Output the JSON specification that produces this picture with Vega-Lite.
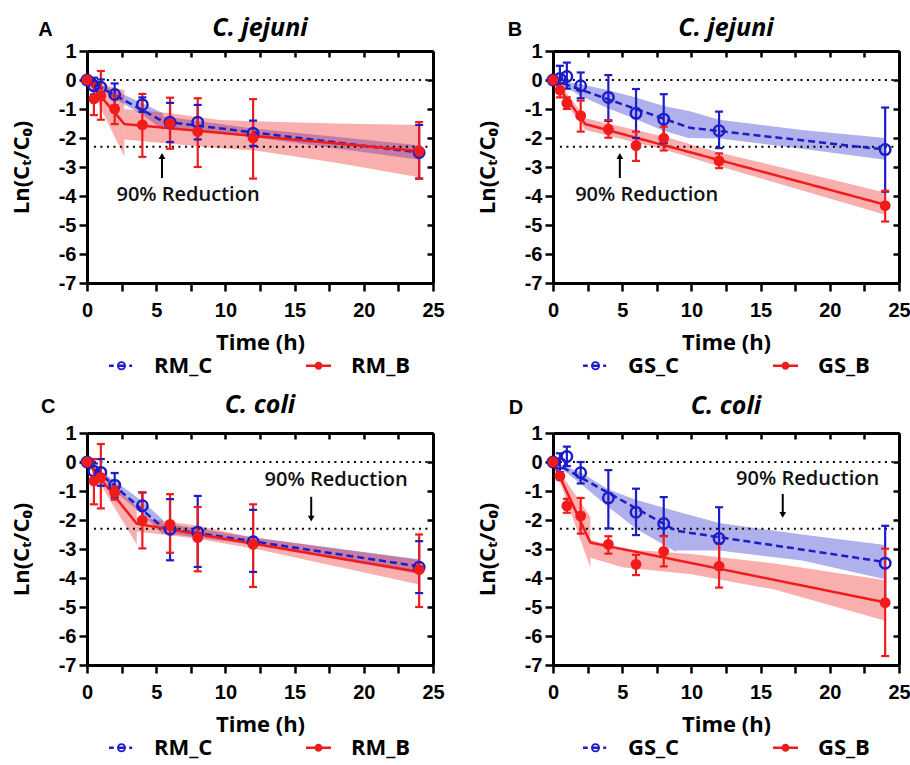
{
  "$schema": "https://vega.github.io/schema/vega-lite/v6.json",
  "background": "white",
  "padding": {"left": 10, "top": 16, "right": 5, "bottom": 5},
  "datasets": {
    "ptsA": [
      {"series": "RM_C", "t": 0, "y": 0, "lo": 0, "hi": 0},
      {"series": "RM_C", "t": 0.5, "y": -0.2, "lo": -0.5, "hi": 0.08},
      {"series": "RM_C", "t": 1, "y": -0.25, "lo": -0.5, "hi": 0.02},
      {"series": "RM_C", "t": 2, "y": -0.5, "lo": -0.88, "hi": -0.12},
      {"series": "RM_C", "t": 4, "y": -0.85, "lo": -1.1, "hi": -0.6},
      {"series": "RM_C", "t": 6, "y": -1.46, "lo": -2.14, "hi": -0.79},
      {"series": "RM_C", "t": 8, "y": -1.46, "lo": -2.05, "hi": -0.86},
      {"series": "RM_C", "t": 12, "y": -1.84, "lo": -2.27, "hi": -1.4},
      {"series": "RM_C", "t": 24, "y": -2.5, "lo": -3.4, "hi": -1.55},
      {"series": "RM_B", "t": 0, "y": 0, "lo": 0, "hi": 0},
      {"series": "RM_B", "t": 0.5, "y": -0.65, "lo": -1.21, "hi": -0.1},
      {"series": "RM_B", "t": 1, "y": -0.55, "lo": -1.37, "hi": 0.31},
      {"series": "RM_B", "t": 2, "y": -1.0, "lo": -1.52, "hi": -0.55},
      {"series": "RM_B", "t": 4, "y": -1.55, "lo": -2.65, "hi": -0.48},
      {"series": "RM_B", "t": 6, "y": -1.5, "lo": -2.37, "hi": -0.61},
      {"series": "RM_B", "t": 8, "y": -1.78, "lo": -3.0, "hi": -0.63},
      {"series": "RM_B", "t": 12, "y": -2.0, "lo": -3.4, "hi": -0.66},
      {"series": "RM_B", "t": 24, "y": -2.45, "lo": -3.4, "hi": -1.45}
    ],
    "fitA": [
      {"series": "RM_C", "t": 0, "y": 0}, {"series": "RM_C", "t": 5.5, "y": -1.43}, {"series": "RM_C", "t": 24, "y": -2.5},
      {"series": "RM_B", "t": 0, "y": 0}, {"series": "RM_B", "t": 2.7, "y": -1.52}, {"series": "RM_B", "t": 24, "y": -2.45}
    ],
    "bandA": [
      {"series": "RM_C", "seg": 1, "t": 0, "lo": 0, "hi": 0},
      {"series": "RM_C", "seg": 1, "t": 2, "lo": -0.65, "hi": -0.35},
      {"series": "RM_C", "seg": 1, "t": 4, "lo": -1.2, "hi": -0.8},
      {"series": "RM_C", "seg": 1, "t": 5.5, "lo": -1.72, "hi": -1.15},
      {"series": "RM_C", "seg": 2, "t": 5.5, "lo": -1.6, "hi": -1.25},
      {"series": "RM_C", "seg": 2, "t": 12, "lo": -1.97, "hi": -1.67},
      {"series": "RM_C", "seg": 2, "t": 24, "lo": -2.75, "hi": -2.25},
      {"series": "RM_B", "seg": 1, "t": 0, "lo": 0, "hi": 0},
      {"series": "RM_B", "seg": 1, "t": 2.7, "lo": -2.65, "hi": -0.35},
      {"series": "RM_B", "seg": 2, "t": 2.7, "lo": -2.05, "hi": -1.0},
      {"series": "RM_B", "seg": 2, "t": 6, "lo": -2.2, "hi": -1.15},
      {"series": "RM_B", "seg": 2, "t": 9.6, "lo": -2.35, "hi": -1.38},
      {"series": "RM_B", "seg": 2, "t": 12, "lo": -2.42, "hi": -1.42},
      {"series": "RM_B", "seg": 2, "t": 18, "lo": -2.85, "hi": -1.5},
      {"series": "RM_B", "seg": 2, "t": 24, "lo": -3.35, "hi": -1.55}
    ],
    "ptsB": [
      {"series": "GS_C", "t": 0, "y": 0, "lo": 0, "hi": 0},
      {"series": "GS_C", "t": 0.5, "y": 0.05, "lo": -0.35, "hi": 0.49},
      {"series": "GS_C", "t": 1, "y": 0.12, "lo": -0.3, "hi": 0.6},
      {"series": "GS_C", "t": 2, "y": -0.2, "lo": -0.63, "hi": 0.26},
      {"series": "GS_C", "t": 4, "y": -0.6, "lo": -1.41, "hi": 0.17},
      {"series": "GS_C", "t": 6, "y": -1.15, "lo": -2.0, "hi": -0.31},
      {"series": "GS_C", "t": 8, "y": -1.35, "lo": -2.18, "hi": -0.49},
      {"series": "GS_C", "t": 12, "y": -1.75, "lo": -2.35, "hi": -1.09},
      {"series": "GS_C", "t": 24, "y": -2.4, "lo": -3.85, "hi": -0.95},
      {"series": "GS_B", "t": 0, "y": 0, "lo": 0, "hi": 0},
      {"series": "GS_B", "t": 0.5, "y": -0.35, "lo": -0.6, "hi": -0.12},
      {"series": "GS_B", "t": 1, "y": -0.8, "lo": -1.0, "hi": -0.6},
      {"series": "GS_B", "t": 2, "y": -1.23, "lo": -1.78, "hi": -0.71},
      {"series": "GS_B", "t": 4, "y": -1.7, "lo": -1.99, "hi": -1.38},
      {"series": "GS_B", "t": 6, "y": -2.26, "lo": -2.79, "hi": -1.78},
      {"series": "GS_B", "t": 8, "y": -2.01, "lo": -2.43, "hi": -1.61},
      {"series": "GS_B", "t": 12, "y": -2.79, "lo": -3.04, "hi": -2.53},
      {"series": "GS_B", "t": 24, "y": -4.33, "lo": -4.88, "hi": -3.82}
    ],
    "fitB": [
      {"series": "GS_C", "t": 0, "y": 0}, {"series": "GS_C", "t": 9.9, "y": -1.65}, {"series": "GS_C", "t": 24, "y": -2.4},
      {"series": "GS_B", "t": 0, "y": 0}, {"series": "GS_B", "t": 2.33, "y": -1.52}, {"series": "GS_B", "t": 24, "y": -4.3}
    ],
    "bandB": [
      {"series": "GS_C", "seg": 1, "t": 0, "lo": 0, "hi": 0},
      {"series": "GS_C", "seg": 1, "t": 2, "lo": -0.55, "hi": -0.15},
      {"series": "GS_C", "seg": 1, "t": 4, "lo": -0.98, "hi": -0.35},
      {"series": "GS_C", "seg": 1, "t": 6, "lo": -1.35, "hi": -0.6},
      {"series": "GS_C", "seg": 1, "t": 8, "lo": -1.75, "hi": -0.9},
      {"series": "GS_C", "seg": 1, "t": 9.9, "lo": -2.02, "hi": -1.08},
      {"series": "GS_C", "seg": 2, "t": 9.9, "lo": -2.0, "hi": -1.08},
      {"series": "GS_C", "seg": 2, "t": 12, "lo": -2.02, "hi": -1.37},
      {"series": "GS_C", "seg": 2, "t": 18, "lo": -2.37, "hi": -1.72},
      {"series": "GS_C", "seg": 2, "t": 24, "lo": -2.75, "hi": -2.0},
      {"series": "GS_B", "seg": 1, "t": 0, "lo": 0, "hi": 0},
      {"series": "GS_B", "seg": 1, "t": 1, "lo": -0.85, "hi": -0.45},
      {"series": "GS_B", "seg": 1, "t": 2.33, "lo": -1.72, "hi": -1.3},
      {"series": "GS_B", "seg": 2, "t": 2.33, "lo": -1.72, "hi": -1.32},
      {"series": "GS_B", "seg": 2, "t": 8, "lo": -2.4, "hi": -1.95},
      {"series": "GS_B", "seg": 2, "t": 12, "lo": -2.97, "hi": -2.5},
      {"series": "GS_B", "seg": 2, "t": 24, "lo": -4.65, "hi": -3.88}
    ],
    "ptsC": [
      {"series": "RM_C", "t": 0, "y": 0, "lo": 0, "hi": 0},
      {"series": "RM_C", "t": 0.5, "y": -0.32, "lo": -0.6, "hi": -0.05},
      {"series": "RM_C", "t": 1, "y": -0.36, "lo": -0.82, "hi": 0.1},
      {"series": "RM_C", "t": 2, "y": -0.8, "lo": -1.22, "hi": -0.38},
      {"series": "RM_C", "t": 4, "y": -1.51, "lo": -1.98, "hi": -1.05},
      {"series": "RM_C", "t": 6, "y": -2.32, "lo": -3.39, "hi": -1.28},
      {"series": "RM_C", "t": 8, "y": -2.42, "lo": -3.62, "hi": -1.17},
      {"series": "RM_C", "t": 12, "y": -2.75, "lo": -3.79, "hi": -1.65},
      {"series": "RM_C", "t": 24, "y": -3.63, "lo": -4.52, "hi": -2.73},
      {"series": "RM_B", "t": 0, "y": 0, "lo": 0, "hi": 0},
      {"series": "RM_B", "t": 0.5, "y": -0.65, "lo": -1.46, "hi": 0.1},
      {"series": "RM_B", "t": 1, "y": -0.53, "lo": -1.6, "hi": 0.62},
      {"series": "RM_B", "t": 2, "y": -1.05, "lo": -1.3, "hi": -0.85},
      {"series": "RM_B", "t": 4, "y": -2.01, "lo": -2.98, "hi": -1.05},
      {"series": "RM_B", "t": 6, "y": -2.15, "lo": -3.13, "hi": -1.11},
      {"series": "RM_B", "t": 8, "y": -2.61, "lo": -3.77, "hi": -1.55},
      {"series": "RM_B", "t": 12, "y": -2.84, "lo": -4.31, "hi": -1.46},
      {"series": "RM_B", "t": 24, "y": -3.71, "lo": -5.0, "hi": -2.5}
    ],
    "fitC": [
      {"series": "RM_C", "t": 0, "y": 0}, {"series": "RM_C", "t": 5.5, "y": -2.27}, {"series": "RM_C", "t": 24, "y": -3.6},
      {"series": "RM_B", "t": 0, "y": 0}, {"series": "RM_B", "t": 3.6, "y": -2.13}, {"series": "RM_B", "t": 24, "y": -3.79}
    ],
    "bandC": [
      {"series": "RM_C", "seg": 1, "t": 0, "lo": 0, "hi": 0},
      {"series": "RM_C", "seg": 1, "t": 2, "lo": -1.0, "hi": -0.65},
      {"series": "RM_C", "seg": 1, "t": 4, "lo": -1.8, "hi": -1.35},
      {"series": "RM_C", "seg": 1, "t": 5.5, "lo": -2.5, "hi": -2.0},
      {"series": "RM_C", "seg": 2, "t": 5.5, "lo": -2.45, "hi": -2.1},
      {"series": "RM_C", "seg": 2, "t": 12, "lo": -2.85, "hi": -2.6},
      {"series": "RM_C", "seg": 2, "t": 24, "lo": -3.85, "hi": -3.35},
      {"series": "RM_B", "seg": 1, "t": 0, "lo": 0, "hi": 0},
      {"series": "RM_B", "seg": 1, "t": 3.6, "lo": -2.85, "hi": -1.55},
      {"series": "RM_B", "seg": 2, "t": 3.6, "lo": -2.4, "hi": -1.9},
      {"series": "RM_B", "seg": 2, "t": 8, "lo": -2.65, "hi": -2.2},
      {"series": "RM_B", "seg": 2, "t": 12, "lo": -2.98, "hi": -2.6},
      {"series": "RM_B", "seg": 2, "t": 24, "lo": -4.22, "hi": -3.38}
    ],
    "ptsD": [
      {"series": "GS_C", "t": 0, "y": 0, "lo": 0, "hi": 0},
      {"series": "GS_C", "t": 0.5, "y": -0.05, "lo": -0.35, "hi": 0.3},
      {"series": "GS_C", "t": 1, "y": 0.19, "lo": -0.14, "hi": 0.53},
      {"series": "GS_C", "t": 2, "y": -0.37, "lo": -0.74, "hi": 0.0},
      {"series": "GS_C", "t": 4, "y": -1.24, "lo": -2.29, "hi": -0.28},
      {"series": "GS_C", "t": 6, "y": -1.73, "lo": -2.52, "hi": -0.92},
      {"series": "GS_C", "t": 8, "y": -2.12, "lo": -2.55, "hi": -1.21},
      {"series": "GS_C", "t": 12, "y": -2.64, "lo": -3.6, "hi": -1.56},
      {"series": "GS_C", "t": 24, "y": -3.49, "lo": -4.8, "hi": -2.2},
      {"series": "GS_B", "t": 0, "y": 0, "lo": 0, "hi": 0},
      {"series": "GS_B", "t": 0.5, "y": -0.49, "lo": -0.6, "hi": -0.4},
      {"series": "GS_B", "t": 1, "y": -1.51, "lo": -1.75, "hi": -1.27},
      {"series": "GS_B", "t": 2, "y": -1.86, "lo": -2.47, "hi": -1.24},
      {"series": "GS_B", "t": 4, "y": -2.84, "lo": -3.16, "hi": -2.56},
      {"series": "GS_B", "t": 6, "y": -3.53, "lo": -3.9, "hi": -3.2},
      {"series": "GS_B", "t": 8, "y": -3.08, "lo": -3.6, "hi": -2.56},
      {"series": "GS_B", "t": 12, "y": -3.59, "lo": -4.33, "hi": -2.81},
      {"series": "GS_B", "t": 24, "y": -4.85, "lo": -6.69, "hi": -2.99}
    ],
    "fitD": [
      {"series": "GS_C", "t": 0, "y": 0}, {"series": "GS_C", "t": 8.9, "y": -2.37}, {"series": "GS_C", "t": 24, "y": -3.45},
      {"series": "GS_B", "t": 0, "y": 0}, {"series": "GS_B", "t": 2.7, "y": -2.78}, {"series": "GS_B", "t": 24, "y": -4.84}
    ],
    "bandD": [
      {"series": "GS_C", "seg": 1, "t": 0, "lo": 0, "hi": 0},
      {"series": "GS_C", "seg": 1, "t": 2, "lo": -0.75, "hi": -0.35},
      {"series": "GS_C", "seg": 1, "t": 4, "lo": -1.55, "hi": -0.95},
      {"series": "GS_C", "seg": 1, "t": 6, "lo": -2.3, "hi": -1.3},
      {"series": "GS_C", "seg": 1, "t": 8.9, "lo": -3.1, "hi": -1.7},
      {"series": "GS_C", "seg": 2, "t": 8.9, "lo": -3.05, "hi": -1.7},
      {"series": "GS_C", "seg": 2, "t": 12, "lo": -3.05, "hi": -2.1},
      {"series": "GS_C", "seg": 2, "t": 18, "lo": -3.4, "hi": -2.5},
      {"series": "GS_C", "seg": 2, "t": 24, "lo": -4.04, "hi": -2.86},
      {"series": "GS_B", "seg": 1, "t": 0, "lo": 0, "hi": 0},
      {"series": "GS_B", "seg": 1, "t": 2.7, "lo": -3.65, "hi": -1.89},
      {"series": "GS_B", "seg": 2, "t": 2.7, "lo": -3.3, "hi": -2.68},
      {"series": "GS_B", "seg": 2, "t": 5, "lo": -3.63, "hi": -3.0},
      {"series": "GS_B", "seg": 2, "t": 10, "lo": -3.87, "hi": -3.17},
      {"series": "GS_B", "seg": 2, "t": 16, "lo": -4.4, "hi": -3.5},
      {"series": "GS_B", "seg": 2, "t": 24, "lo": -5.47, "hi": -4.08}
    ]
  },
  "spacing": 16,
  "resolve": {"scale": {"color": "independent", "fill": "independent", "stroke": "independent", "shape": "independent", "strokeDash": "independent", "size": "independent", "fillOpacity": "independent"}},
  "vconcat": [
    {
      "spacing": 31,
      "resolve": {"scale": {"color": "independent", "fill": "independent", "stroke": "independent", "shape": "independent", "strokeDash": "independent", "size": "independent", "fillOpacity": "independent"}},
      "hconcat": [
        {
          "width": 346, "height": 232,
          "title": "C. jejuni",
          "resolve": {"axis": {"x": "independent", "y": "independent"}},
          "layer": [
            {"data": {"name": "bandA"}, "mark": {"type": "area", "opacity": 0.35},
             "encoding": {
               "x": {"field": "t", "type": "quantitative", "scale": {"domain": [0, 25], "nice": false, "zero": false}, "axis": {"orient": "top", "values": [0, 2.5, 5, 7.5, 10, 12.5, 15, 17.5, 20, 22.5, 25], "labels": false, "title": null, "tickSize": -6}},
               "y": {"field": "lo", "type": "quantitative", "scale": {"domain": [-7, 1], "nice": false, "zero": false}, "axis": {"orient": "right", "values": [-7, -6, -5, -4, -3, -2, -1, 0, 1], "labels": false, "title": null, "tickSize": -6}},
               "y2": {"field": "hi"},
               "color": {"field": "series", "type": "nominal", "scale": {"range": ["#f21b1b", "#1c1cc8"]}, "legend": null},
               "detail": {"field": "seg", "type": "nominal"}}},
            {"data": {"values": [{"ref": 0}, {"ref": -2.303}]}, "mark": {"type": "rule", "color": "black", "strokeWidth": 2, "strokeDash": [2, 4.5]},
             "encoding": {"x": {"datum": 0.5, "type": "quantitative", "axis": null}, "x2": {"datum": 24.9}, "y": {"field": "ref", "type": "quantitative", "axis": null}}},
            {"data": {"name": "fitA"}, "mark": {"type": "line", "strokeWidth": 2.5},
             "encoding": {"x": {"field": "t", "type": "quantitative", "axis": null}, "y": {"field": "y", "type": "quantitative", "axis": null},
               "color": {"field": "series", "type": "nominal", "legend": null},
               "strokeDash": {"field": "series", "type": "nominal", "scale": {"range": [[1, 0], [7, 4]]}, "legend": null}}},
            {"data": {"name": "ptsA"}, "transform": [{"filter": "datum.t == 0"}], "mark": {"type": "point", "filled": true, "size": 1, "opacity": 1, "strokeWidth": 0},
             "encoding": {"x": {"field": "t", "type": "quantitative", "axis": null}, "y": {"field": "y", "type": "quantitative", "axis": null},
               "fill": {"field": "series", "type": "nominal", "scale": {"domain": ["RM_C", "RM_B"], "range": ["#1c1cc8", "#f21b1b"]}, "legend": {"title": null, "labelFontSize": 22, "labelFont": "Open Sans", "labelFontWeight": "bold", "labelColor": "black", "labelOffset": 20, "columnPadding": 93, "offset": 0, "symbolSize": 625, "symbolStrokeWidth": 0}},
               "shape": {"field": "series", "type": "nominal", "scale": {"domain": ["RM_C", "RM_B"], "range": ["M-1,-0.1H-0.62V0.1H-1Z M-0.3,-0.1H0.3V0.1H-0.3Z M0.62,-0.1H0.85V0.1H0.62Z M0.36,0A0.36,0.36 0 1 1 -0.36,0A0.36,0.36 0 1 1 0.36,0Z M0.22,0A0.22,0.22 0 1 0 -0.22,0A0.22,0.22 0 1 0 0.22,0Z", "M-1,-0.1H1V0.1H-1Z M0.32,0A0.32,0.32 0 1 1 -0.32,0A0.32,0.32 0 1 1 0.32,0Z"]}, "legend": {"title": null}}}},
            {"data": {"name": "ptsA"}, "transform": [{"filter": "datum.t > 0"}], "mark": {"type": "rule", "strokeWidth": 2.2},
             "encoding": {"x": {"field": "t", "type": "quantitative", "axis": null}, "y": {"field": "lo", "type": "quantitative", "axis": null}, "y2": {"field": "hi"},
               "color": {"field": "series", "type": "nominal", "legend": null}}},
            {"data": {"name": "ptsA"}, "transform": [{"filter": "datum.t > 0"}, {"fold": ["lo", "hi"], "as": ["end", "v"]}], "mark": {"type": "point", "shape": "stroke", "size": 64, "strokeWidth": 2.2, "opacity": 1},
             "encoding": {"x": {"field": "t", "type": "quantitative", "axis": null}, "y": {"field": "v", "type": "quantitative", "axis": null},
               "color": {"field": "series", "type": "nominal", "legend": null}}},
            {"data": {"name": "ptsA"}, "mark": {"type": "point", "filled": true, "opacity": 1, "strokeWidth": 2.5},
             "encoding": {
               "x": {"field": "t", "type": "quantitative", "axis": {"orient": "bottom", "values": [0, 2.5, 5, 7.5, 10, 12.5, 15, 17.5, 20, 22.5, 25], "labelExpr": "datum.value % 5 === 0 ? '' + datum.value : ''", "title": "Time (h)"}},
               "y": {"field": "y", "type": "quantitative", "axis": {"orient": "left", "values": [-7, -6, -5, -4, -3, -2, -1, 0, 1], "labelExpr": "'' + datum.value", "title": "Ln(Cₜ/C₀)"}},
               "color": {"field": "series", "type": "nominal", "legend": null},
               "stroke": {"field": "series", "type": "nominal", "scale": {"range": ["#f21b1b", "#1c1cc8"]}, "legend": null},
               "fillOpacity": {"field": "series", "type": "nominal", "scale": {"range": [1, 0]}, "legend": null},
               "size": {"field": "series", "type": "nominal", "scale": {"range": [70, 110]}, "legend": null}}},
            {"data": {"values": [{"label": "90% Reduction", "t": 7.3, "y": -3.95}]}, "mark": {"type": "text", "fontSize": 20, "fontWeight": 600, "font": "Open Sans", "color": "#111111"},
             "encoding": {"x": {"field": "t", "type": "quantitative", "axis": null}, "y": {"field": "y", "type": "quantitative", "axis": null}, "text": {"field": "label"}}},
            {"data": {"values": [{"t": 5.42, "tail": -3.38, "tip": -2.62}]}, "mark": {"type": "rule", "strokeWidth": 2, "color": "black"},
             "encoding": {"x": {"field": "t", "type": "quantitative", "axis": null}, "y": {"field": "tail", "type": "quantitative", "axis": null}, "y2": {"field": "tip"}}},
            {"data": {"values": [{"t": 5.42, "tip": -2.62}]}, "mark": {"type": "point", "shape": "triangle-up", "filled": true, "size": 45, "opacity": 1, "color": "black"},
             "encoding": {"x": {"field": "t", "type": "quantitative", "axis": null}, "y": {"field": "tip", "type": "quantitative", "axis": null}}},
            {"data": {"values": [{"letter": "A", "t": -3.0, "y": 1.72}]}, "mark": {"type": "text", "fontSize": 20, "fontWeight": "bold", "font": "Liberation Sans", "color": "black"},
             "encoding": {"x": {"field": "t", "type": "quantitative", "axis": null}, "y": {"field": "y", "type": "quantitative", "axis": null}, "text": {"field": "letter"}}}
          ]
        },
        {
          "width": 346, "height": 232,
          "title": "C. jejuni",
          "resolve": {"axis": {"x": "independent", "y": "independent"}},
          "layer": [
            {"data": {"name": "bandB"}, "mark": {"type": "area", "opacity": 0.35},
             "encoding": {
               "x": {"field": "t", "type": "quantitative", "scale": {"domain": [0, 25], "nice": false, "zero": false}, "axis": {"orient": "top", "values": [0, 2.5, 5, 7.5, 10, 12.5, 15, 17.5, 20, 22.5, 25], "labels": false, "title": null, "tickSize": -6}},
               "y": {"field": "lo", "type": "quantitative", "scale": {"domain": [-7, 1], "nice": false, "zero": false}, "axis": {"orient": "right", "values": [-7, -6, -5, -4, -3, -2, -1, 0, 1], "labels": false, "title": null, "tickSize": -6}},
               "y2": {"field": "hi"},
               "color": {"field": "series", "type": "nominal", "scale": {"range": ["#f21b1b", "#1c1cc8"]}, "legend": null},
               "detail": {"field": "seg", "type": "nominal"}}},
            {"data": {"values": [{"ref": 0}, {"ref": -2.303}]}, "mark": {"type": "rule", "color": "black", "strokeWidth": 2, "strokeDash": [2, 4.5]},
             "encoding": {"x": {"datum": 0.5, "type": "quantitative", "axis": null}, "x2": {"datum": 24.9}, "y": {"field": "ref", "type": "quantitative", "axis": null}}},
            {"data": {"name": "fitB"}, "mark": {"type": "line", "strokeWidth": 2.5},
             "encoding": {"x": {"field": "t", "type": "quantitative", "axis": null}, "y": {"field": "y", "type": "quantitative", "axis": null},
               "color": {"field": "series", "type": "nominal", "legend": null},
               "strokeDash": {"field": "series", "type": "nominal", "scale": {"range": [[1, 0], [7, 4]]}, "legend": null}}},
            {"data": {"name": "ptsB"}, "transform": [{"filter": "datum.t == 0"}], "mark": {"type": "point", "filled": true, "size": 1, "opacity": 1, "strokeWidth": 0},
             "encoding": {"x": {"field": "t", "type": "quantitative", "axis": null}, "y": {"field": "y", "type": "quantitative", "axis": null},
               "fill": {"field": "series", "type": "nominal", "scale": {"domain": ["GS_C", "GS_B"], "range": ["#1c1cc8", "#f21b1b"]}, "legend": {"title": null, "labelFontSize": 22, "labelFont": "Open Sans", "labelFontWeight": "bold", "labelColor": "black", "labelOffset": 20, "columnPadding": 93, "offset": 0, "symbolSize": 625, "symbolStrokeWidth": 0}},
               "shape": {"field": "series", "type": "nominal", "scale": {"domain": ["GS_C", "GS_B"], "range": ["M-1,-0.1H-0.62V0.1H-1Z M-0.3,-0.1H0.3V0.1H-0.3Z M0.62,-0.1H0.85V0.1H0.62Z M0.36,0A0.36,0.36 0 1 1 -0.36,0A0.36,0.36 0 1 1 0.36,0Z M0.22,0A0.22,0.22 0 1 0 -0.22,0A0.22,0.22 0 1 0 0.22,0Z", "M-1,-0.1H1V0.1H-1Z M0.32,0A0.32,0.32 0 1 1 -0.32,0A0.32,0.32 0 1 1 0.32,0Z"]}, "legend": {"title": null}}}},
            {"data": {"name": "ptsB"}, "transform": [{"filter": "datum.t > 0"}], "mark": {"type": "rule", "strokeWidth": 2.2},
             "encoding": {"x": {"field": "t", "type": "quantitative", "axis": null}, "y": {"field": "lo", "type": "quantitative", "axis": null}, "y2": {"field": "hi"},
               "color": {"field": "series", "type": "nominal", "legend": null}}},
            {"data": {"name": "ptsB"}, "transform": [{"filter": "datum.t > 0"}, {"fold": ["lo", "hi"], "as": ["end", "v"]}], "mark": {"type": "point", "shape": "stroke", "size": 64, "strokeWidth": 2.2, "opacity": 1},
             "encoding": {"x": {"field": "t", "type": "quantitative", "axis": null}, "y": {"field": "v", "type": "quantitative", "axis": null},
               "color": {"field": "series", "type": "nominal", "legend": null}}},
            {"data": {"name": "ptsB"}, "mark": {"type": "point", "filled": true, "opacity": 1, "strokeWidth": 2.5},
             "encoding": {
               "x": {"field": "t", "type": "quantitative", "axis": {"orient": "bottom", "values": [0, 2.5, 5, 7.5, 10, 12.5, 15, 17.5, 20, 22.5, 25], "labelExpr": "datum.value % 5 === 0 ? '' + datum.value : ''", "title": "Time (h)"}},
               "y": {"field": "y", "type": "quantitative", "axis": {"orient": "left", "values": [-7, -6, -5, -4, -3, -2, -1, 0, 1], "labelExpr": "'' + datum.value", "title": "Ln(Cₜ/C₀)"}},
               "color": {"field": "series", "type": "nominal", "legend": null},
               "stroke": {"field": "series", "type": "nominal", "scale": {"range": ["#f21b1b", "#1c1cc8"]}, "legend": null},
               "fillOpacity": {"field": "series", "type": "nominal", "scale": {"range": [1, 0]}, "legend": null},
               "size": {"field": "series", "type": "nominal", "scale": {"range": [70, 110]}, "legend": null}}},
            {"data": {"values": [{"label": "90% Reduction", "t": 6.77, "y": -3.97}]}, "mark": {"type": "text", "fontSize": 20, "fontWeight": 600, "font": "Open Sans", "color": "#111111"},
             "encoding": {"x": {"field": "t", "type": "quantitative", "axis": null}, "y": {"field": "y", "type": "quantitative", "axis": null}, "text": {"field": "label"}}},
            {"data": {"values": [{"t": 4.83, "tail": -3.38, "tip": -2.62}]}, "mark": {"type": "rule", "strokeWidth": 2, "color": "black"},
             "encoding": {"x": {"field": "t", "type": "quantitative", "axis": null}, "y": {"field": "tail", "type": "quantitative", "axis": null}, "y2": {"field": "tip"}}},
            {"data": {"values": [{"t": 4.83, "tip": -2.62}]}, "mark": {"type": "point", "shape": "triangle-up", "filled": true, "size": 45, "opacity": 1, "color": "black"},
             "encoding": {"x": {"field": "t", "type": "quantitative", "axis": null}, "y": {"field": "tip", "type": "quantitative", "axis": null}}},
            {"data": {"values": [{"letter": "B", "t": -2.74, "y": 1.72}]}, "mark": {"type": "text", "fontSize": 20, "fontWeight": "bold", "font": "Liberation Sans", "color": "black"},
             "encoding": {"x": {"field": "t", "type": "quantitative", "axis": null}, "y": {"field": "y", "type": "quantitative", "axis": null}, "text": {"field": "letter"}}}
          ]
        }
      ]
    },
    {
      "spacing": 31,
      "resolve": {"scale": {"color": "independent", "fill": "independent", "stroke": "independent", "shape": "independent", "strokeDash": "independent", "size": "independent", "fillOpacity": "independent"}},
      "hconcat": [
        {
          "width": 346, "height": 232,
          "title": "C. coli",
          "resolve": {"axis": {"x": "independent", "y": "independent"}},
          "layer": [
            {"data": {"name": "bandC"}, "mark": {"type": "area", "opacity": 0.35},
             "encoding": {
               "x": {"field": "t", "type": "quantitative", "scale": {"domain": [0, 25], "nice": false, "zero": false}, "axis": {"orient": "top", "values": [0, 2.5, 5, 7.5, 10, 12.5, 15, 17.5, 20, 22.5, 25], "labels": false, "title": null, "tickSize": -6}},
               "y": {"field": "lo", "type": "quantitative", "scale": {"domain": [-7, 1], "nice": false, "zero": false}, "axis": {"orient": "right", "values": [-7, -6, -5, -4, -3, -2, -1, 0, 1], "labels": false, "title": null, "tickSize": -6}},
               "y2": {"field": "hi"},
               "color": {"field": "series", "type": "nominal", "scale": {"range": ["#f21b1b", "#1c1cc8"]}, "legend": null},
               "detail": {"field": "seg", "type": "nominal"}}},
            {"data": {"values": [{"ref": 0}, {"ref": -2.303}]}, "mark": {"type": "rule", "color": "black", "strokeWidth": 2, "strokeDash": [2, 4.5]},
             "encoding": {"x": {"datum": 0.5, "type": "quantitative", "axis": null}, "x2": {"datum": 24.9}, "y": {"field": "ref", "type": "quantitative", "axis": null}}},
            {"data": {"name": "fitC"}, "mark": {"type": "line", "strokeWidth": 2.5},
             "encoding": {"x": {"field": "t", "type": "quantitative", "axis": null}, "y": {"field": "y", "type": "quantitative", "axis": null},
               "color": {"field": "series", "type": "nominal", "legend": null},
               "strokeDash": {"field": "series", "type": "nominal", "scale": {"range": [[1, 0], [7, 4]]}, "legend": null}}},
            {"data": {"name": "ptsC"}, "transform": [{"filter": "datum.t == 0"}], "mark": {"type": "point", "filled": true, "size": 1, "opacity": 1, "strokeWidth": 0},
             "encoding": {"x": {"field": "t", "type": "quantitative", "axis": null}, "y": {"field": "y", "type": "quantitative", "axis": null},
               "fill": {"field": "series", "type": "nominal", "scale": {"domain": ["RM_C", "RM_B"], "range": ["#1c1cc8", "#f21b1b"]}, "legend": {"title": null, "labelFontSize": 22, "labelFont": "Open Sans", "labelFontWeight": "bold", "labelColor": "black", "labelOffset": 20, "columnPadding": 93, "offset": 0, "symbolSize": 625, "symbolStrokeWidth": 0}},
               "shape": {"field": "series", "type": "nominal", "scale": {"domain": ["RM_C", "RM_B"], "range": ["M-1,-0.1H-0.62V0.1H-1Z M-0.3,-0.1H0.3V0.1H-0.3Z M0.62,-0.1H0.85V0.1H0.62Z M0.36,0A0.36,0.36 0 1 1 -0.36,0A0.36,0.36 0 1 1 0.36,0Z M0.22,0A0.22,0.22 0 1 0 -0.22,0A0.22,0.22 0 1 0 0.22,0Z", "M-1,-0.1H1V0.1H-1Z M0.32,0A0.32,0.32 0 1 1 -0.32,0A0.32,0.32 0 1 1 0.32,0Z"]}, "legend": {"title": null}}}},
            {"data": {"name": "ptsC"}, "transform": [{"filter": "datum.t > 0"}], "mark": {"type": "rule", "strokeWidth": 2.2},
             "encoding": {"x": {"field": "t", "type": "quantitative", "axis": null}, "y": {"field": "lo", "type": "quantitative", "axis": null}, "y2": {"field": "hi"},
               "color": {"field": "series", "type": "nominal", "legend": null}}},
            {"data": {"name": "ptsC"}, "transform": [{"filter": "datum.t > 0"}, {"fold": ["lo", "hi"], "as": ["end", "v"]}], "mark": {"type": "point", "shape": "stroke", "size": 64, "strokeWidth": 2.2, "opacity": 1},
             "encoding": {"x": {"field": "t", "type": "quantitative", "axis": null}, "y": {"field": "v", "type": "quantitative", "axis": null},
               "color": {"field": "series", "type": "nominal", "legend": null}}},
            {"data": {"name": "ptsC"}, "mark": {"type": "point", "filled": true, "opacity": 1, "strokeWidth": 2.5},
             "encoding": {
               "x": {"field": "t", "type": "quantitative", "axis": {"orient": "bottom", "values": [0, 2.5, 5, 7.5, 10, 12.5, 15, 17.5, 20, 22.5, 25], "labelExpr": "datum.value % 5 === 0 ? '' + datum.value : ''", "title": "Time (h)"}},
               "y": {"field": "y", "type": "quantitative", "axis": {"orient": "left", "values": [-7, -6, -5, -4, -3, -2, -1, 0, 1], "labelExpr": "'' + datum.value", "title": "Ln(Cₜ/C₀)"}},
               "color": {"field": "series", "type": "nominal", "legend": null},
               "stroke": {"field": "series", "type": "nominal", "scale": {"range": ["#f21b1b", "#1c1cc8"]}, "legend": null},
               "fillOpacity": {"field": "series", "type": "nominal", "scale": {"range": [1, 0]}, "legend": null},
               "size": {"field": "series", "type": "nominal", "scale": {"range": [70, 110]}, "legend": null}}},
            {"data": {"values": [{"label": "90% Reduction", "t": 18.0, "y": -0.63}]}, "mark": {"type": "text", "fontSize": 20, "fontWeight": 600, "font": "Open Sans", "color": "#111111"},
             "encoding": {"x": {"field": "t", "type": "quantitative", "axis": null}, "y": {"field": "y", "type": "quantitative", "axis": null}, "text": {"field": "label"}}},
            {"data": {"values": [{"t": 16.2, "tail": -1.2, "tip": -1.95}]}, "mark": {"type": "rule", "strokeWidth": 2, "color": "black"},
             "encoding": {"x": {"field": "t", "type": "quantitative", "axis": null}, "y": {"field": "tail", "type": "quantitative", "axis": null}, "y2": {"field": "tip"}}},
            {"data": {"values": [{"t": 16.2, "tip": -1.95}]}, "mark": {"type": "point", "shape": "triangle-down", "filled": true, "size": 45, "opacity": 1, "color": "black"},
             "encoding": {"x": {"field": "t", "type": "quantitative", "axis": null}, "y": {"field": "tip", "type": "quantitative", "axis": null}}},
            {"data": {"values": [{"letter": "C", "t": -2.8, "y": 1.89}]}, "mark": {"type": "text", "fontSize": 20, "fontWeight": "bold", "font": "Liberation Sans", "color": "black"},
             "encoding": {"x": {"field": "t", "type": "quantitative", "axis": null}, "y": {"field": "y", "type": "quantitative", "axis": null}, "text": {"field": "letter"}}}
          ]
        },
        {
          "width": 346, "height": 232,
          "title": "C. coli",
          "resolve": {"axis": {"x": "independent", "y": "independent"}},
          "layer": [
            {"data": {"name": "bandD"}, "mark": {"type": "area", "opacity": 0.35},
             "encoding": {
               "x": {"field": "t", "type": "quantitative", "scale": {"domain": [0, 25], "nice": false, "zero": false}, "axis": {"orient": "top", "values": [0, 2.5, 5, 7.5, 10, 12.5, 15, 17.5, 20, 22.5, 25], "labels": false, "title": null, "tickSize": -6}},
               "y": {"field": "lo", "type": "quantitative", "scale": {"domain": [-7, 1], "nice": false, "zero": false}, "axis": {"orient": "right", "values": [-7, -6, -5, -4, -3, -2, -1, 0, 1], "labels": false, "title": null, "tickSize": -6}},
               "y2": {"field": "hi"},
               "color": {"field": "series", "type": "nominal", "scale": {"range": ["#f21b1b", "#1c1cc8"]}, "legend": null},
               "detail": {"field": "seg", "type": "nominal"}}},
            {"data": {"values": [{"ref": 0}, {"ref": -2.303}]}, "mark": {"type": "rule", "color": "black", "strokeWidth": 2, "strokeDash": [2, 4.5]},
             "encoding": {"x": {"datum": 0.5, "type": "quantitative", "axis": null}, "x2": {"datum": 24.9}, "y": {"field": "ref", "type": "quantitative", "axis": null}}},
            {"data": {"name": "fitD"}, "mark": {"type": "line", "strokeWidth": 2.5},
             "encoding": {"x": {"field": "t", "type": "quantitative", "axis": null}, "y": {"field": "y", "type": "quantitative", "axis": null},
               "color": {"field": "series", "type": "nominal", "legend": null},
               "strokeDash": {"field": "series", "type": "nominal", "scale": {"range": [[1, 0], [7, 4]]}, "legend": null}}},
            {"data": {"name": "ptsD"}, "transform": [{"filter": "datum.t == 0"}], "mark": {"type": "point", "filled": true, "size": 1, "opacity": 1, "strokeWidth": 0},
             "encoding": {"x": {"field": "t", "type": "quantitative", "axis": null}, "y": {"field": "y", "type": "quantitative", "axis": null},
               "fill": {"field": "series", "type": "nominal", "scale": {"domain": ["GS_C", "GS_B"], "range": ["#1c1cc8", "#f21b1b"]}, "legend": {"title": null, "labelFontSize": 22, "labelFont": "Open Sans", "labelFontWeight": "bold", "labelColor": "black", "labelOffset": 20, "columnPadding": 93, "offset": 0, "symbolSize": 625, "symbolStrokeWidth": 0}},
               "shape": {"field": "series", "type": "nominal", "scale": {"domain": ["GS_C", "GS_B"], "range": ["M-1,-0.1H-0.62V0.1H-1Z M-0.3,-0.1H0.3V0.1H-0.3Z M0.62,-0.1H0.85V0.1H0.62Z M0.36,0A0.36,0.36 0 1 1 -0.36,0A0.36,0.36 0 1 1 0.36,0Z M0.22,0A0.22,0.22 0 1 0 -0.22,0A0.22,0.22 0 1 0 0.22,0Z", "M-1,-0.1H1V0.1H-1Z M0.32,0A0.32,0.32 0 1 1 -0.32,0A0.32,0.32 0 1 1 0.32,0Z"]}, "legend": {"title": null}}}},
            {"data": {"name": "ptsD"}, "transform": [{"filter": "datum.t > 0"}], "mark": {"type": "rule", "strokeWidth": 2.2},
             "encoding": {"x": {"field": "t", "type": "quantitative", "axis": null}, "y": {"field": "lo", "type": "quantitative", "axis": null}, "y2": {"field": "hi"},
               "color": {"field": "series", "type": "nominal", "legend": null}}},
            {"data": {"name": "ptsD"}, "transform": [{"filter": "datum.t > 0"}, {"fold": ["lo", "hi"], "as": ["end", "v"]}], "mark": {"type": "point", "shape": "stroke", "size": 64, "strokeWidth": 2.2, "opacity": 1},
             "encoding": {"x": {"field": "t", "type": "quantitative", "axis": null}, "y": {"field": "v", "type": "quantitative", "axis": null},
               "color": {"field": "series", "type": "nominal", "legend": null}}},
            {"data": {"name": "ptsD"}, "mark": {"type": "point", "filled": true, "opacity": 1, "strokeWidth": 2.5},
             "encoding": {
               "x": {"field": "t", "type": "quantitative", "axis": {"orient": "bottom", "values": [0, 2.5, 5, 7.5, 10, 12.5, 15, 17.5, 20, 22.5, 25], "labelExpr": "datum.value % 5 === 0 ? '' + datum.value : ''", "title": "Time (h)"}},
               "y": {"field": "y", "type": "quantitative", "axis": {"orient": "left", "values": [-7, -6, -5, -4, -3, -2, -1, 0, 1], "labelExpr": "'' + datum.value", "title": "Ln(Cₜ/C₀)"}},
               "color": {"field": "series", "type": "nominal", "legend": null},
               "stroke": {"field": "series", "type": "nominal", "scale": {"range": ["#f21b1b", "#1c1cc8"]}, "legend": null},
               "fillOpacity": {"field": "series", "type": "nominal", "scale": {"range": [1, 0]}, "legend": null},
               "size": {"field": "series", "type": "nominal", "scale": {"range": [70, 110]}, "legend": null}}},
            {"data": {"values": [{"label": "90% Reduction", "t": 18.4, "y": -0.57}]}, "mark": {"type": "text", "fontSize": 20, "fontWeight": 600, "font": "Open Sans", "color": "#111111"},
             "encoding": {"x": {"field": "t", "type": "quantitative", "axis": null}, "y": {"field": "y", "type": "quantitative", "axis": null}, "text": {"field": "label"}}},
            {"data": {"values": [{"t": 16.6, "tail": -1.1, "tip": -1.82}]}, "mark": {"type": "rule", "strokeWidth": 2, "color": "black"},
             "encoding": {"x": {"field": "t", "type": "quantitative", "axis": null}, "y": {"field": "tail", "type": "quantitative", "axis": null}, "y2": {"field": "tip"}}},
            {"data": {"values": [{"t": 16.6, "tip": -1.82}]}, "mark": {"type": "point", "shape": "triangle-down", "filled": true, "size": 45, "opacity": 1, "color": "black"},
             "encoding": {"x": {"field": "t", "type": "quantitative", "axis": null}, "y": {"field": "tip", "type": "quantitative", "axis": null}}},
            {"data": {"values": [{"letter": "D", "t": -2.67, "y": 1.85}]}, "mark": {"type": "text", "fontSize": 20, "fontWeight": "bold", "font": "Liberation Sans", "color": "black"},
             "encoding": {"x": {"field": "t", "type": "quantitative", "axis": null}, "y": {"field": "y", "type": "quantitative", "axis": null}, "text": {"field": "letter"}}}
          ]
        }
      ]
    }
  ],
  "config": {
    "font": "Open Sans",
    "view": {"stroke": null},
    "title": {"font": "Open Sans", "fontSize": 25, "fontWeight": "bold", "fontStyle": "italic", "color": "black", "anchor": "middle", "frame": "group", "offset": -21},
    "axis": {"grid": false, "domainColor": "black", "domainWidth": 3, "tickColor": "black", "tickWidth": 2.5, "tickSize": 8, "labelFlush": false, "labelOverlap": false, "labelFont": "Liberation Sans", "labelFontWeight": "bold", "labelFontSize": 20, "labelColor": "black", "labelPadding": 3, "titleFont": "Open Sans", "titleFontWeight": "bold", "titleFontSize": 22, "titleColor": "black", "titlePadding": 6},
    "axisX": {"labelPadding": 9, "titlePadding": 12},
    "axisY": {"titlePadding": 25},
    "legend": {"orient": "bottom", "direction": "horizontal", "labelFont": "Open Sans", "labelFontWeight": "bold", "labelFontSize": 22, "labelColor": "black", "symbolSize": 625, "symbolStrokeWidth": 0, "columnPadding": 93, "labelOffset": 20, "offset": 0, "layout": {"bottom": {"anchor": "middle"}}}
  }
}
